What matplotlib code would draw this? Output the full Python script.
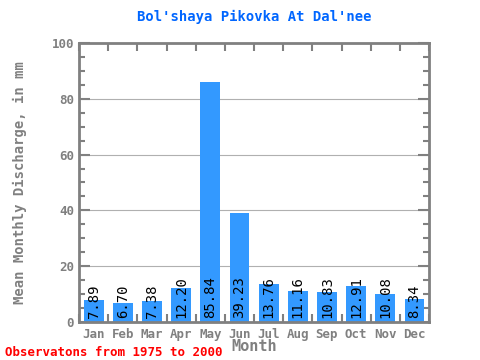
import matplotlib
matplotlib.use('Agg')
import matplotlib.pyplot as plt
import numpy as np

months = ['Jan', 'Feb', 'Mar', 'Apr', 'May', 'Jun', 'Jul', 'Aug', 'Sep', 'Oct', 'Nov', 'Dec']
values = [7.89, 6.70, 7.38, 12.20, 85.84, 39.23, 13.76, 11.16, 10.83, 12.91, 10.08, 8.34]
labels = ['7.89', '6.70', '7.38', '12.20', '85.84', '39.23', '13.76', '11.16', '10.83', '12.91', '10.08', '8.34']

mono = 'DejaVu Sans Mono'
grey = '#808080'

fig = plt.figure(figsize=(4.8, 3.6), dpi=100)
ax = fig.add_axes([0.1646, 0.1056, 0.7292, 0.775])

x = np.arange(len(months))
ax.bar(x, values, width=0.68, color='#3399ff', zorder=2)
for xi, lab in zip(x, labels):
    ax.text(xi, 1.5, lab, rotation=90, ha='center', va='bottom',
            fontsize=10, family=mono, color='black', zorder=3)

ax.set_xlim(-0.5, 11.5)
ax.set_ylim(0, 100)
for g in [20, 40, 60, 80]:
    ax.axhline(g, color='#b0b0b0', lw=0.8, zorder=1)

for s in ax.spines.values():
    s.set_color(grey)
    s.set_linewidth(2)

ax.set_yticks([0, 20, 40, 60, 80, 100])
ax.set_yticks(np.arange(0, 101, 5), minor=True)
ax.tick_params(axis='y', which='both', direction='in', right=True, color=grey,
               width=1.5, labelcolor=grey, labelsize=9)
ax.tick_params(axis='y', which='major', length=8)
ax.tick_params(axis='y', which='minor', length=4)
ax.set_xticks(x)
ax.set_xticklabels(months)
ax.set_xticks(np.arange(-0.5, 12, 1), minor=True)
ax.tick_params(axis='x', which='major', length=0, labelcolor=grey, labelsize=9, pad=4)
ax.tick_params(axis='x', which='minor', direction='in', top=True, bottom=True,
               length=6, width=1.5, color=grey)
for t in ax.get_xticklabels() + ax.get_yticklabels():
    t.set_family(mono)
    t.set_fontweight('bold')

ax.set_xlabel('Month', family=mono, fontweight='bold', color=grey, fontsize=11, labelpad=-1)
ax.set_ylabel('Mean Monthly Discharge, in mm', family=mono, fontweight='bold',
              color=grey, fontsize=10, labelpad=18)
ax.set_title("Bol'shaya Pikovka At Dal'nee", family=mono, fontweight='bold',
             color='#0066ff', fontsize=10, pad=16)
fig.text(0.01, 0.01, 'Observatons from 1975 to 2000', family=mono, fontweight='bold',
         color='red', fontsize=9)

fig.savefig('out.png', dpi=100)
